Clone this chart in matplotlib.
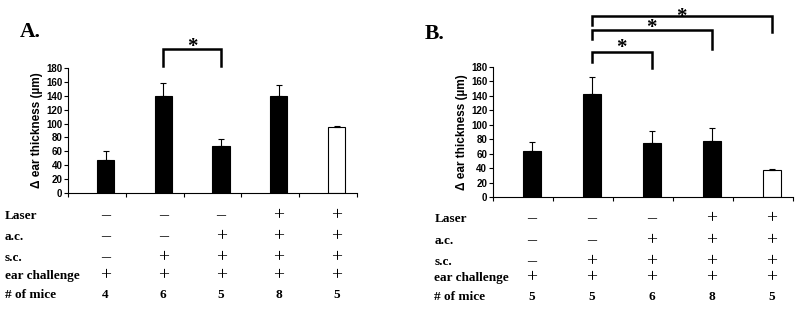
import matplotlib
matplotlib.use("Agg")
import matplotlib.pyplot as plt
import matplotlib.transforms as mtransforms

# Panel A
means_a = [47, 140, 67, 140, 95]
errs_a = [14, 19, 11, 16, 1.5]
fill_a = ["black", "black", "black", "black", "white"]
mice_a = ["4", "6", "5", "8", "5"]
# Panel B
means_b = [64, 142, 75, 78, 38]
errs_b = [12, 24, 16, 18, 1]
fill_b = ["black", "black", "black", "black", "white"]
mice_b = ["5", "5", "6", "8", "5"]

row_labels = ["Laser", "a.c.", "s.c.", "ear challenge", "# of mice"]
laser = ["-", "-", "-", "+", "+"]
ac = ["-", "-", "+", "+", "+"]
sc = ["-", "+", "+", "+", "+"]
ear = ["+", "+", "+", "+", "+"]
yticks = [0, 20, 40, 60, 80, 100, 120, 140, 160, 180]

fig = plt.figure(figsize=(8, 3.09), dpi=100)
ax_a = fig.add_axes([0.085, 0.3754, 0.361, 0.4046])
ax_b = fig.add_axes([0.616, 0.3625, 0.375, 0.4205])

sans = "Liberation Sans"
serif = "Liberation Serif"


def draw_panel(ax, means, errs, fills):
    xs = [i + 0.65 for i in range(len(means))]
    ax.bar(xs, means, width=0.3, color=fills, edgecolor="black", linewidth=0.8)
    ax.errorbar(xs, means, yerr=[[0] * len(errs), errs], fmt="none",
                ecolor="black", elinewidth=0.8, capsize=2.5, capthick=0.8)
    ax.set_xlim(0, 5)
    ax.set_ylim(0, 180)
    ax.set_yticks(yticks)
    ax.set_xticks(range(6))
    ax.set_xticklabels([])
    ax.tick_params(axis="x", length=3, width=0.8, direction="out")
    ax.tick_params(axis="y", length=3, width=0.8, direction="out", pad=1)
    for lab in ax.get_yticklabels():
        lab.set_fontfamily(sans); lab.set_fontweight("bold"); lab.set_fontsize(7)
    for s in ["top", "right"]:
        ax.spines[s].set_visible(False)
    ax.spines["left"].set_linewidth(0.8); ax.spines["bottom"].set_linewidth(0.8)
    ax.set_ylabel("Δ ear thickness (µm)", fontfamily=sans, fontweight="bold",
                  fontsize=8.5, labelpad=2)
    return xs


def bracket(ax, x1, x2, ytop, yl, yr, ystar):
    ax.plot([x1, x1, x2, x2], [yl, ytop, ytop, yr], color="black", lw=1.8,
            clip_on=False, solid_joinstyle="miter")
    ax.text((x1 + x2) / 2, ystar - 6, "*", ha="center", va="center", fontsize=15,
            fontfamily=serif, fontweight="bold")


def draw_table(ax, xs, label_x, rows_y, mice):
    trans = mtransforms.blended_transform_factory(ax.transData, fig.transFigure)
    for lab, y in zip(row_labels, rows_y):
        fig.text(label_x, y, lab, ha="left", va="center", fontfamily=serif,
                 fontweight="bold", fontsize=9.5)
    for r, vals in enumerate([laser, ac, sc, ear]):
        for x, v in zip(xs, vals):
            sym = "+" if v == "+" else "\u2013"
            ax.text(x, rows_y[r], sym, transform=trans, ha="center", va="center",
                    fontfamily=serif, fontsize=14 if v == "+" else 13)
    for x, m in zip(xs, mice):
        ax.text(x, rows_y[4], m, transform=trans, ha="center", va="center",
                fontfamily=serif, fontweight="bold", fontsize=9.5)


xs_a = draw_panel(ax_a, means_a, errs_a, fill_a)
xs_b = draw_panel(ax_b, means_b, errs_b, fill_b)

bracket(ax_a, xs_a[1], xs_a[2], 207, 183, 183, 216)
bracket(ax_b, xs_b[1], xs_b[2], 201, 187, 179, 213)
bracket(ax_b, xs_b[1], xs_b[3], 231, 219, 205, 240)
bracket(ax_b, xs_b[1], xs_b[4], 251, 238, 229, 256)

fig.text(0.025, 0.895, "A.", fontfamily=serif, fontweight="bold", fontsize=15.5,
         va="center")
fig.text(0.531, 0.89, "B.", fontfamily=serif, fontweight="bold", fontsize=15.5,
         va="center")

rows_a = [1 - y / 309 for y in [216, 237, 258, 276, 295]]
rows_b = [1 - y / 309 for y in [219, 241, 262, 278, 297]]
draw_table(ax_a, xs_a, 0.006, rows_a, mice_a)
draw_table(ax_b, xs_b, 0.543, rows_b, mice_b)

fig.savefig("out.png", dpi=100)
